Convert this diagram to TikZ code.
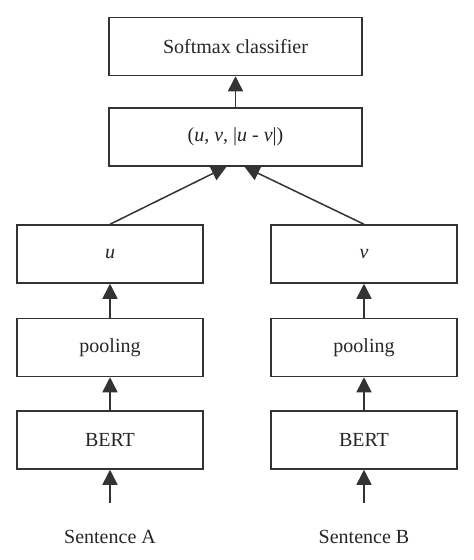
\documentclass[tikz,border=0pt]{standalone}
\usepackage{fontspec}
\setmainfont{Liberation Serif}
\usetikzlibrary{arrows.meta}
\definecolor{edge}{HTML}{333333}
\begin{document}
\begin{tikzpicture}[x=1pt,y=-1pt,
  box/.style={draw=edge,line width=1.5pt,minimum width=186pt,minimum height=58pt,inner sep=0pt,font=\fontsize{20}{22}\selectfont,text=black!85},
  wide/.style={box,minimum width=253pt},
  lbl/.style={font=\fontsize{20}{22}\selectfont,text=black!85,inner sep=0pt},
  arr/.style={draw=edge,line width=1.5pt,-{Triangle[width=15pt,length=15pt]}}]
\useasboundingbox (0,0) rectangle (474,560);
\node[wide] (soft) at (235.5,46.5) {Softmax classifier};
\node[wide] (comb) at (235.5,137) {(\textit{u}, \textit{v}, |\textit{u} - \textit{v}|)};
\node[box] (u) at (110,254) {\textit{u}};
\node[box] (poolA) at (110,347.5) {pooling};
\node[box] (bertA) at (110,440) {BERT};
\node[box] (v) at (364,254) {\textit{v}};
\node[box] (poolB) at (364,347.5) {pooling};
\node[box] (bertB) at (364,440) {BERT};
\coordinate (inA) at (110,503);
\coordinate (inB) at (364,503);
\node[lbl] (sa) at (110,537) {Sentence A};
\node[lbl] (sb) at (364,537) {Sentence B};
\draw[arr] (comb.north) -- (soft.south);
\draw[arr] (u.north) -- ([xshift=-9pt]comb.south);
\draw[arr] (v.north) -- ([xshift=9pt]comb.south);
\draw[arr] (poolA.north) -- (u.south);
\draw[arr] (bertA.north) -- (poolA.south);
\draw[arr] (inA) -- (bertA.south);
\draw[arr] (poolB.north) -- (v.south);
\draw[arr] (bertB.north) -- (poolB.south);
\draw[arr] (inB) -- (bertB.south);
\end{tikzpicture}
\end{document}
